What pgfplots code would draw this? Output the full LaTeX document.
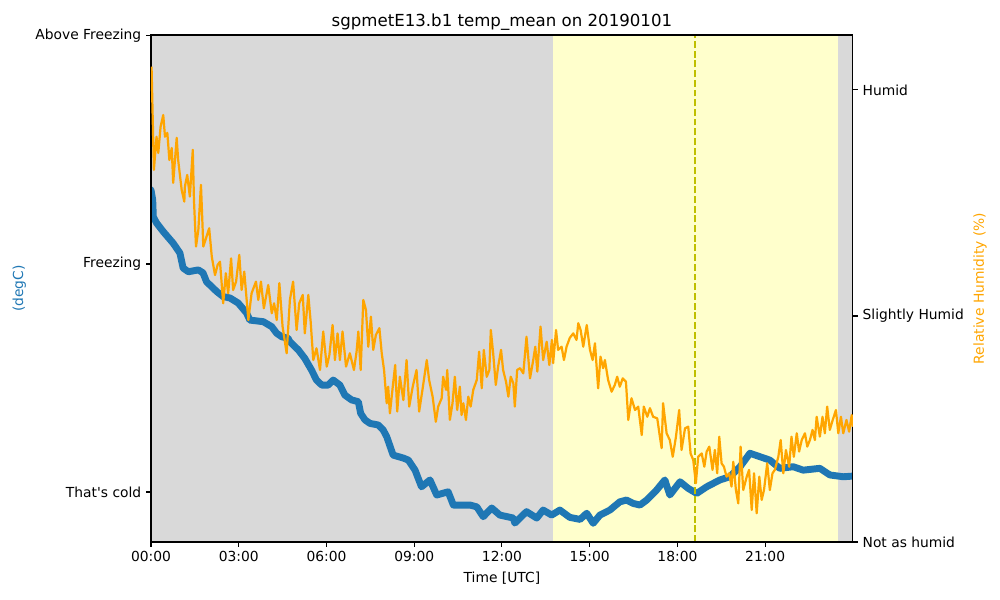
\documentclass[border=0pt]{standalone}
\usepackage{fontspec}
\setmainfont[Ligatures=TeXOff]{DejaVu Sans}
\usepackage{pgfplots}
\pgfplotsset{compat=1.18}

\definecolor{mblue}{HTML}{1F77B4}
\definecolor{morange}{HTML}{FFA500}
\definecolor{bggray}{HTML}{D9D9D9}
\definecolor{bgyellow}{HTML}{FFFFCC}
\definecolor{dashy}{HTML}{BFBF00}

\begin{document}
\begin{tikzpicture}
\pgfplotsset{
  every axis/.append style={
    scale only axis, width=507.3pt, height=366.4pt,
    at={(0,0)}, anchor=south west,
    xmin=0, xmax=24,
    tick align=outside, major tick length=3.5pt,
    every tick/.style={black, line width=0.8pt},
    axis line style={line width=0.8pt},
    tick label style={font=\fontsize{10}{12}\selectfont, /pgf/number format/assume math mode=true},
    label style={font=\fontsize{10}{12}\selectfont},
  }
}
% temperature axis (left)
\begin{axis}[
  axis on top,
  ymin=-12.19, ymax=10.04,
  xtick={0,3,...,21},
  xticklabels={00:00,03:00,06:00,09:00,12:00,15:00,18:00,21:00},
  xtick pos=left, ytick pos=left,
  ytick={-10,0,10},
  yticklabels={{That's cold}, Freezing, Above Freezing},
  xlabel={Time [UTC]},
  ylabel={(degC)}, ylabel style={text=mblue},
  title={sgpmetE13.b1 temp\_mean on 20190101},
  title style={font=\fontsize{12}{14}\selectfont, yshift=-6pt},
]
\addplot[draw=none, fill=bggray, forget plot] coordinates {(0,-12.19) (24,-12.19) (24,10.04) (0,10.04)} -- cycle;
\addplot[draw=none, fill=bgyellow, forget plot] coordinates {(13.74,-12.19) (23.48,-12.19) (23.48,10.04) (13.74,10.04)} -- cycle;
\addplot[mblue, line width=5pt, line cap=round, line join=round] coordinates {
(0.00,3.25) (0.06,2.81) (0.08,2.07) (0.19,1.80) (0.42,1.42) (0.76,0.91) (0.99,0.48)
(1.10,-0.18) (1.28,-0.34) (1.62,-0.26) (1.78,-0.39) (1.90,-0.78) (2.25,-1.21) (2.47,-1.43)
(2.70,-1.49) (2.98,-1.71) (3.27,-2.15) (3.38,-2.46) (3.84,-2.53) (4.13,-2.75) (4.30,-3.04)
(4.47,-3.19) (4.69,-3.26) (4.75,-3.41) (5.04,-3.77) (5.26,-4.14) (5.49,-4.65) (5.66,-5.09)
(5.84,-5.31) (6.06,-5.31) (6.23,-5.09) (6.46,-5.31) (6.63,-5.75) (6.86,-5.96) (7.09,-6.04)
(7.17,-6.55) (7.32,-6.84) (7.49,-6.99) (7.77,-7.06) (7.94,-7.28) (8.06,-7.57) (8.28,-8.38)
(8.63,-8.51) (8.80,-8.60) (9.03,-9.04) (9.25,-9.77) (9.54,-9.47) (9.77,-10.13) (10.16,-9.99)
(10.34,-10.57) (10.91,-10.57) (11.14,-10.65) (11.36,-11.08) (11.65,-10.70) (11.93,-11.01)
(12.39,-11.14) (12.44,-11.36) (12.84,-10.86) (13.19,-11.14) (13.41,-10.79) (13.70,-11.01)
(13.98,-10.79) (14.32,-11.11) (14.67,-11.20) (14.90,-10.93) (15.12,-11.37) (15.35,-11.01)
(15.69,-10.79) (16.03,-10.43) (16.26,-10.35) (16.49,-10.50) (16.72,-10.57) (16.95,-10.35)
(17.29,-9.91) (17.57,-9.47) (17.74,-10.13) (18.09,-9.55) (18.37,-9.84) (18.66,-10.06)
(19.00,-9.77) (19.45,-9.47) (19.79,-9.33) (20.14,-8.89) (20.48,-8.30) (20.82,-8.45)
(21.16,-8.60) (21.50,-8.96) (21.96,-8.89) (22.30,-9.04) (22.87,-8.96) (23.21,-9.25)
(23.67,-9.33) (24.00,-9.30)
};
\addplot[dashy, line width=1.5pt, dash pattern=on 5pt off 2pt, forget plot] coordinates {(18.59,-12.19) (18.59,10.04)};
\end{axis}
% relative humidity axis (right)
\begin{axis}[
  axis x line=none, axis y line*=right,
  ymin=70, ymax=92.43,
  ytick={70,80,90},
  yticklabels={Not as humid, Slightly Humid, Humid},
  ytick pos=right, yticklabel pos=right, ylabel near ticks,
  ylabel={Relative Humidity (\%)}, ylabel style={text=morange},
]
\addplot[morange, line width=1.6pt, line join=round] coordinates {
(0.02,91.03) (0.10,86.46) (0.19,87.93) (0.25,87.21) (0.33,88.38) (0.42,88.89) (0.48,87.93)
(0.56,88.10) (0.63,86.90) (0.71,87.43) (0.76,85.89) (0.88,87.88) (0.93,86.90) (1.05,85.58)
(1.14,85.06) (1.16,85.72) (1.24,86.24) (1.33,85.28) (1.43,87.35) (1.47,85.13) (1.54,83.07)
(1.62,83.81) (1.71,85.80) (1.79,83.07) (1.90,83.51) (1.99,83.88) (2.08,82.62) (2.19,81.81)
(2.28,82.26) (2.36,82.40) (2.47,80.56) (2.56,81.89) (2.64,81.00) (2.74,82.55) (2.81,81.15)
(2.91,81.52) (3.02,82.70) (3.10,81.15) (3.19,81.96) (3.33,79.82) (3.44,81.00) (3.59,81.52)
(3.67,80.71) (3.76,81.52) (3.86,80.34) (4.01,81.37) (4.13,80.12) (4.21,80.56) (4.30,79.82)
(4.39,81.45) (4.50,79.53) (4.64,78.35) (4.75,80.71) (4.86,81.52) (4.98,79.38) (5.07,80.56)
(5.19,80.93) (5.26,79.23) (5.38,80.93) (5.46,79.75) (5.55,78.05) (5.66,78.57) (5.78,77.61)
(5.89,79.31) (6.01,77.76) (6.10,78.27) (6.21,79.60) (6.29,78.05) (6.38,79.23) (6.46,78.05)
(6.55,79.31) (6.67,77.76) (6.80,78.35) (6.94,77.61) (7.03,78.42) (7.09,79.31) (7.17,77.61)
(7.26,80.71) (7.35,80.27) (7.43,78.64) (7.52,79.97) (7.60,78.50) (7.69,79.16) (7.81,79.46)
(7.89,78.35) (7.97,77.61) (8.06,76.14) (8.11,76.87) (8.17,75.69) (8.28,77.02) (8.35,77.83)
(8.42,75.77) (8.51,77.31) (8.63,76.28) (8.74,78.05) (8.83,75.99) (8.95,76.87) (9.08,77.61)
(9.17,75.77) (9.29,76.80) (9.43,78.05) (9.51,77.17) (9.63,76.43) (9.74,75.32) (9.82,75.99)
(9.94,76.36) (9.99,77.31) (10.09,76.73) (10.13,77.61) (10.22,75.40) (10.31,76.14) (10.39,77.31)
(10.47,75.84) (10.56,76.87) (10.62,75.62) (10.68,76.14) (10.77,75.40) (10.85,76.43) (10.93,75.99)
(11.02,76.73) (11.14,77.17) (11.22,78.42) (11.31,76.80) (11.38,78.50) (11.48,77.31) (11.57,77.61)
(11.62,79.38) (11.70,78.35) (11.79,76.95) (11.87,77.76) (11.97,78.50) (12.04,77.61) (12.14,77.09)
(12.22,76.43) (12.30,77.31) (12.39,77.02) (12.44,75.99) (12.52,77.61) (12.62,77.69) (12.73,77.46)
(12.84,79.08) (12.96,77.24) (13.07,78.05) (13.14,78.64) (13.21,77.54) (13.32,79.53) (13.41,78.05)
(13.53,78.86) (13.62,77.83) (13.71,78.94) (13.75,77.91) (13.85,79.38) (13.92,78.50) (14.04,78.64)
(14.12,78.05) (14.21,78.64) (14.32,79.03) (14.44,79.23) (14.55,78.94) (14.61,79.68) (14.69,79.38)
(14.78,78.64) (14.90,79.60) (15.01,78.50) (15.10,78.05) (15.18,78.79) (15.29,76.80) (15.37,78.20)
(15.46,77.69) (15.52,78.05) (15.63,77.17) (15.75,76.65) (15.86,76.95) (15.94,77.31) (16.03,76.87)
(16.13,77.24) (16.24,77.09) (16.32,75.40) (16.43,76.36) (16.55,75.84) (16.66,75.99) (16.78,74.73)
(16.85,75.99) (16.97,75.54) (17.06,75.92) (17.17,75.54) (17.31,75.47) (17.40,74.66) (17.46,74.15)
(17.51,76.14) (17.63,74.81) (17.74,74.51) (17.84,73.77) (17.95,74.66) (18.06,75.84) (18.14,74.07)
(18.26,75.03) (18.37,75.10) (18.45,73.92) (18.54,73.63) (18.63,72.60) (18.71,73.77) (18.83,73.92)
(18.92,73.33) (19.00,74.00) (19.09,74.22) (19.20,73.19) (19.28,74.07) (19.36,73.04) (19.43,74.66)
(19.51,73.48) (19.59,73.33) (19.68,72.89) (19.77,73.04) (19.85,72.45) (19.91,73.55) (20.00,72.30)
(20.08,71.71) (20.16,74.22) (20.25,72.30) (20.37,72.89) (20.45,73.19) (20.54,71.42) (20.62,73.04)
(20.71,71.27) (20.80,72.89) (20.88,71.86) (20.96,72.30) (21.07,73.48) (21.16,72.30) (21.25,73.04)
(21.33,73.19) (21.45,73.77) (21.53,74.51) (21.62,73.04) (21.71,74.07) (21.82,73.33) (21.90,74.66)
(21.98,73.77) (22.08,74.81) (22.16,74.00) (22.25,74.51) (22.36,74.81) (22.44,74.22) (22.53,74.51)
(22.62,74.96) (22.70,74.51) (22.76,75.54) (22.87,74.66) (22.96,75.54) (23.04,74.81) (23.12,75.99)
(23.21,74.96) (23.31,75.40) (23.42,75.84) (23.50,74.81) (23.59,75.54) (23.67,74.81) (23.78,75.40)
(23.87,74.88) (23.96,75.62) (24.00,75.10)
};
\end{axis}
\pgfresetboundingbox
\path[use as bounding box] (-109.1pt,-41.9pt) rectangle (613.6pt,391.7pt);
\end{tikzpicture}
\end{document}
